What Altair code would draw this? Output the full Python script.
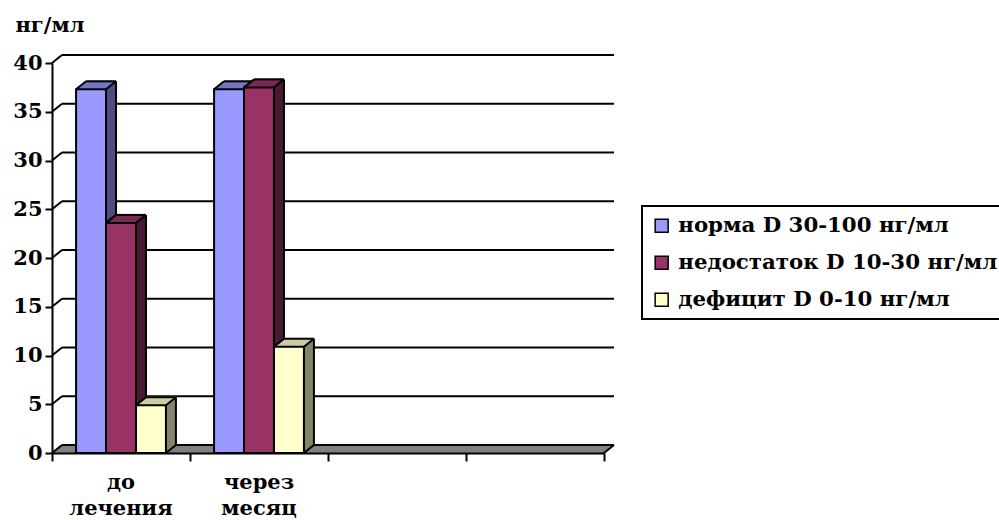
import altair as alt
import pandas as pd

# ---------------- data ----------------
categories = ["до лечения", "через месяц"]
series_names = ["норма D 30-100 нг/мл", "недостаток D 10-30 нг/мл", "дефицит D 0-10 нг/мл"]
norma = [37.3, 37.3]
nedostatok = [23.6, 37.5]
deficit = [4.9, 10.9]
y_ticks = [0, 5, 10, 15, 20, 25, 30, 35, 40]
n_slots = 4
unit_title = "нг/мл"

# ---------------- style ----------------
front_colors = ["#9999FF", "#993366", "#FFFFCC"]
side_colors = ["#4D4D82", "#4A1A35", "#84846A"]
top_colors = ["#7676C4", "#7A2A55", "#CDCDA2"]
floor_color = "#808080"
FONT = "DejaVu Serif"
FS = 21
LEG_FS = 21.3
DX, DY = 10, -8
BAR_W = 0.217

rows = []
for g, cat in enumerate(categories):
    for i, (s, vals) in enumerate(zip(series_names, [norma, nedostatok, deficit])):
        x1 = g + (1 - 3 * BAR_W) / 2 + i * BAR_W
        rows.append(dict(cat=cat, series=s, idx=i, value=vals[g], x1=x1, x2=x1 + BAR_W, zero=0))
df = pd.DataFrame(rows)

grid_df = pd.DataFrame({"y": y_ticks, "x0": 0, "x1": n_slots})
floor_df = pd.DataFrame({"y": [0], "x0": [0], "x1": [n_slots]})
cat_df = pd.DataFrame({"cat": categories, "xc": [g + 0.5 for g in range(len(categories))]})

xs = alt.Scale(domain=[0, n_slots], nice=False, zero=False)
ys = alt.Scale(domain=[0, 40], nice=False)

x_axis = alt.Axis(values=list(range(n_slots + 1)), labels=False, title=None,
                  domainColor="black", domainWidth=2, tickColor="black",
                  tickWidth=2, tickSize=8, grid=False, zindex=1)
y_axis = alt.Axis(values=y_ticks, title=unit_title, titleAngle=0, titleAlign="left",
                  titleBaseline="alphabetic", titleX=-37, titleY=-32,
                  titleFont=FONT, titleFontSize=FS, titleFontWeight="bold", titleColor="black",
                  labelFont=FONT, labelFontSize=FS, labelFontWeight="bold", labelColor="black",
                  labelPadding=3, tickSize=7, tickWidth=2, tickColor="black",
                  domainColor="black", domainWidth=2, grid=False, zindex=1)


def XQ(field):
    return alt.X(field, type="quantitative", scale=xs, axis=x_axis)


def YQ(field):
    return alt.Y(field, type="quantitative", scale=ys, axis=y_axis)


layers = []

# back-wall gridlines (carry the axes)
layers.append(
    alt.Chart(grid_df).mark_rule(color="black", strokeWidth=2, xOffset=DX, x2Offset=DX, yOffset=DY)
    .encode(x=XQ("x0"), x2="x1:Q", y=YQ("y"))
)

# floor (grey slab)
for k in range(0, DX + 1):
    oy = k * DY / DX
    layers.append(
        alt.Chart(floor_df).mark_rule(color=floor_color, strokeWidth=2, xOffset=k, x2Offset=k, yOffset=oy)
        .encode(x=XQ("x0"), x2="x1:Q", y=YQ("y"))
    )
# floor back edge
layers.append(
    alt.Chart(floor_df).mark_rule(color="black", strokeWidth=2, xOffset=DX, x2Offset=DX, yOffset=DY)
    .encode(x=XQ("x0"), x2="x1:Q", y=YQ("y"))
)
# floor right diagonal
layers.append(
    alt.Chart(floor_df).mark_rule(color="black", strokeWidth=2, x2Offset=DX, y2Offset=DY)
    .encode(x=XQ("x1"), x2="x1:Q", y=YQ("y"), y2="y:Q")
)
# side-wall connectors
layers.append(
    alt.Chart(grid_df).mark_rule(color="black", strokeWidth=2, x2Offset=DX, y2Offset=DY)
    .encode(x=XQ("x0"), x2="x0:Q", y=YQ("y"), y2="y:Q")
)

legend = alt.Legend(orient="none", legendX=590, legendY=143, title=None, symbolType="square",
                    symbolSize=169, symbolStrokeColor="black", symbolStrokeWidth=1.5,
                    labelFont=FONT, labelFontSize=LEG_FS, labelFontWeight="bold", labelColor="black",
                    labelOffset=6, rowPadding=15, padding=9, strokeColor="black", labelLimit=0)

for i, s in enumerate(series_names):
    base = alt.Chart(df).transform_filter(alt.datum.idx == i)
    # side faces
    for k in range(DX, 0, -1):
        oy = k * DY / DX
        layers.append(
            base.mark_rect(fill=side_colors[i], xOffset=k, x2Offset=k, yOffset=oy, y2Offset=oy)
            .encode(x=XQ("x1"), x2="x2:Q", y=YQ("value"), y2="zero:Q")
        )
    # top faces
    for k in range(1, DX + 1):
        oy = k * DY / DX
        layers.append(
            base.mark_rule(color=top_colors[i], strokeWidth=1.6, xOffset=k, x2Offset=k, yOffset=oy)
            .encode(x=XQ("x1"), x2="x2:Q", y=YQ("value"))
        )
    # edges
    layers.append(base.mark_rule(color="black", strokeWidth=2, xOffset=DX, x2Offset=DX, yOffset=DY)
                  .encode(x=XQ("x1"), x2="x2:Q", y=YQ("value")))
    layers.append(base.mark_rule(color="black", strokeWidth=2, xOffset=DX, yOffset=DY, y2Offset=DY)
                  .encode(x=XQ("x2"), y=YQ("value"), y2="zero:Q"))
    layers.append(base.mark_rule(color="black", strokeWidth=2, x2Offset=DX, y2Offset=DY)
                  .encode(x=XQ("x1"), x2="x1:Q", y=YQ("value"), y2="value:Q"))
    layers.append(base.mark_rule(color="black", strokeWidth=2, x2Offset=DX, y2Offset=DY)
                  .encode(x=XQ("x2"), x2="x2:Q", y=YQ("value"), y2="value:Q"))
    layers.append(base.mark_rule(color="black", strokeWidth=2, x2Offset=DX, y2Offset=DY)
                  .encode(x=XQ("x2"), x2="x2:Q", y=YQ("zero"), y2="zero:Q"))
    # front face
    layers.append(
        base.mark_rect(stroke="black", strokeWidth=2)
        .encode(x=XQ("x1"), x2="x2:Q", y=YQ("value"), y2="zero:Q",
                color=alt.Color("series:N", scale=alt.Scale(domain=series_names, range=front_colors),
                                legend=legend))
    )

# category labels
layers.append(
    alt.Chart(cat_df).mark_text(lineBreak=" ", baseline="alphabetic", align="center", dy=36,
                                font=FONT, fontSize=FS, fontWeight="bold", color="black", lineHeight=26)
    .encode(x=XQ("xc"), y=alt.Y(datum=0, type="quantitative", scale=ys, axis=y_axis), text="cat:N")
)

chart = alt.layer(*layers).properties(
    width=552, height=390,
    autosize=alt.AutoSizeParams(type="none"),
    padding={"left": 52, "top": 63, "right": 395, "bottom": 67},
    background="white",
).configure_view(stroke=None).configure_legend(strokeWidth=2)

chart.save("out.html", embed_options={"renderer": "svg", "actions": False})
